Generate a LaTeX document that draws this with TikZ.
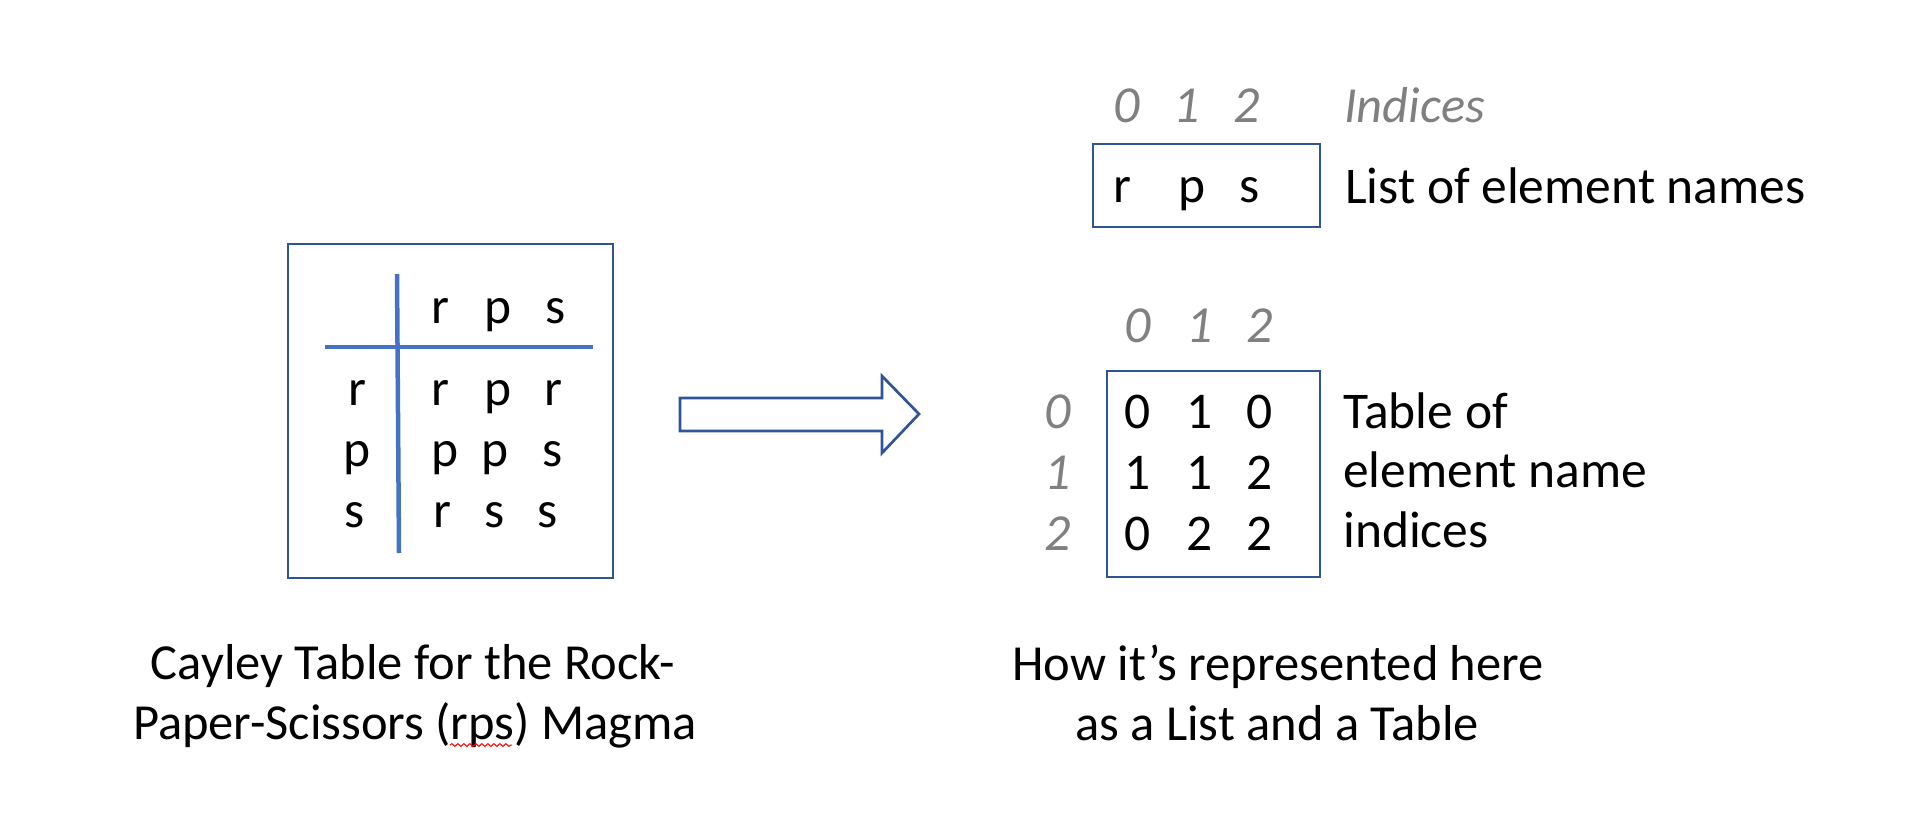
\documentclass[tikz,border=0pt]{standalone}
\usepackage{fontspec}
\setmainfont{Carlito}
\usetikzlibrary{decorations.pathmorphing}
\definecolor{boxblue}{HTML}{2F5597}
\definecolor{lineblue}{HTML}{4472C4}
\definecolor{idxgray}{HTML}{808080}
\tikzset{
  big/.style={font=\fontsize{51.5}{60}\selectfont, inner sep=0pt, anchor=base},
  bigw/.style={big, anchor=base west},
  captxt/.style={font=\fontsize{50.5}{60}\selectfont, inner sep=0pt, anchor=base},
  idx/.style={font=\fontsize{52}{60}\selectfont\itshape, text=idxgray, inner sep=0pt, anchor=base},
  frame/.style={draw=boxblue, line width=2pt, inner sep=0pt},
  tline/.style={draw=lineblue, line width=4.5pt},
}
\begin{document}
\begin{tikzpicture}[x=1pt,y=-1pt]
\useasboundingbox (0,0) rectangle (1924,824);

% ---- Cayley table (left) ----
\node[frame, line width=2.7pt, minimum width=325pt, minimum height=334pt] (cayley) at (450.5,411) {};
\draw[tline] (397,274) -- (399,553);
\draw[tline] (325,347) -- (593,347);
\node[big] (h1) at (440,323) {r};
\node[big] (h2) at (498,323) {p};
\node[big] (h3) at (556,323) {s};
\node[big] (l1) at (357,405) {r};
\node[big] (l2) at (357,466) {p};
\node[big] (l3) at (355,527) {s};
\node[big] (c11) at (440,405) {r};
\node[big] (c12) at (498,405) {p};
\node[big] (c13) at (553,405) {r};
\node[big] (c21) at (445,466) {p};
\node[big] (c22) at (495,466) {p};
\node[big] (c23) at (553,466) {s};
\node[big] (c31) at (442,527) {r};
\node[big] (c32) at (495,527) {s};
\node[big] (c33) at (548,527) {s};

% ---- block arrow ----
\draw[draw=boxblue, line width=2.7pt, line join=miter, fill=white]
  (680,398) -- (882,398) -- (882,376) -- (919,414) -- (882,453) -- (882,431) -- (680,431) -- cycle;

% ---- list of element names (top right) ----
\node[idx] (i0) at (1127,123) {0};
\node[idx] (i1) at (1187,123) {1};
\node[idx] (i2) at (1247,123) {2};
\node[idx, anchor=base west, font=\fontsize{50.5}{60}\selectfont\itshape] (indices) at (1344,123) {Indices};
\node[frame, minimum width=227pt, minimum height=83pt] (listbox) at (1206.5,185.5) {};
\node[big] (e0) at (1122,202) {r};
\node[big] (e1) at (1192,202) {p};
\node[big] (e2) at (1250,202) {s};
\node[bigw] (listlbl) at (1345,203) {List of element names};

% ---- table of indices (bottom right) ----
\node[idx] (t0) at (1138,342) {0};
\node[idx] (t1) at (1200,342) {1};
\node[idx] (t2) at (1260,342) {2};
\node[idx] (r0) at (1058,428) {0};
\node[idx] (r1) at (1058,489) {1};
\node[idx] (r2) at (1058,550) {2};
\node[frame, minimum width=213pt, minimum height=206pt] (tablebox) at (1213.5,474) {};
\node[big] (d00) at (1138,428) {0};
\node[big] (d01) at (1200,428) {1};
\node[big] (d02) at (1260,428) {0};
\node[big] (d10) at (1138,489) {1};
\node[big] (d11) at (1200,489) {1};
\node[big] (d12) at (1260,489) {2};
\node[big] (d20) at (1138,550) {0};
\node[big] (d21) at (1200,550) {2};
\node[big] (d22) at (1260,550) {2};
\node[bigw] (tl1) at (1343,428) {Table of};
\node[bigw] (tl2) at (1343,487) {element name};
\node[bigw] (tl3) at (1343,547) {indices};

% ---- captions ----
\node[captxt] (capL1) at (413,679) {Cayley Table for the Rock-};
\node[captxt] (capL2) at (415,739) {Paper-Scissors (rps) Magma};
\draw[red, line width=1pt, decorate, decoration={snake, amplitude=1.4pt, segment length=6pt}]
  (450,745) -- (512,745);
\node[captxt] (capR1) at (1278,680) {How it’s represented here};
\node[captxt] (capR2) at (1277,740) {as a List and a Table};
\end{tikzpicture}
\end{document}
